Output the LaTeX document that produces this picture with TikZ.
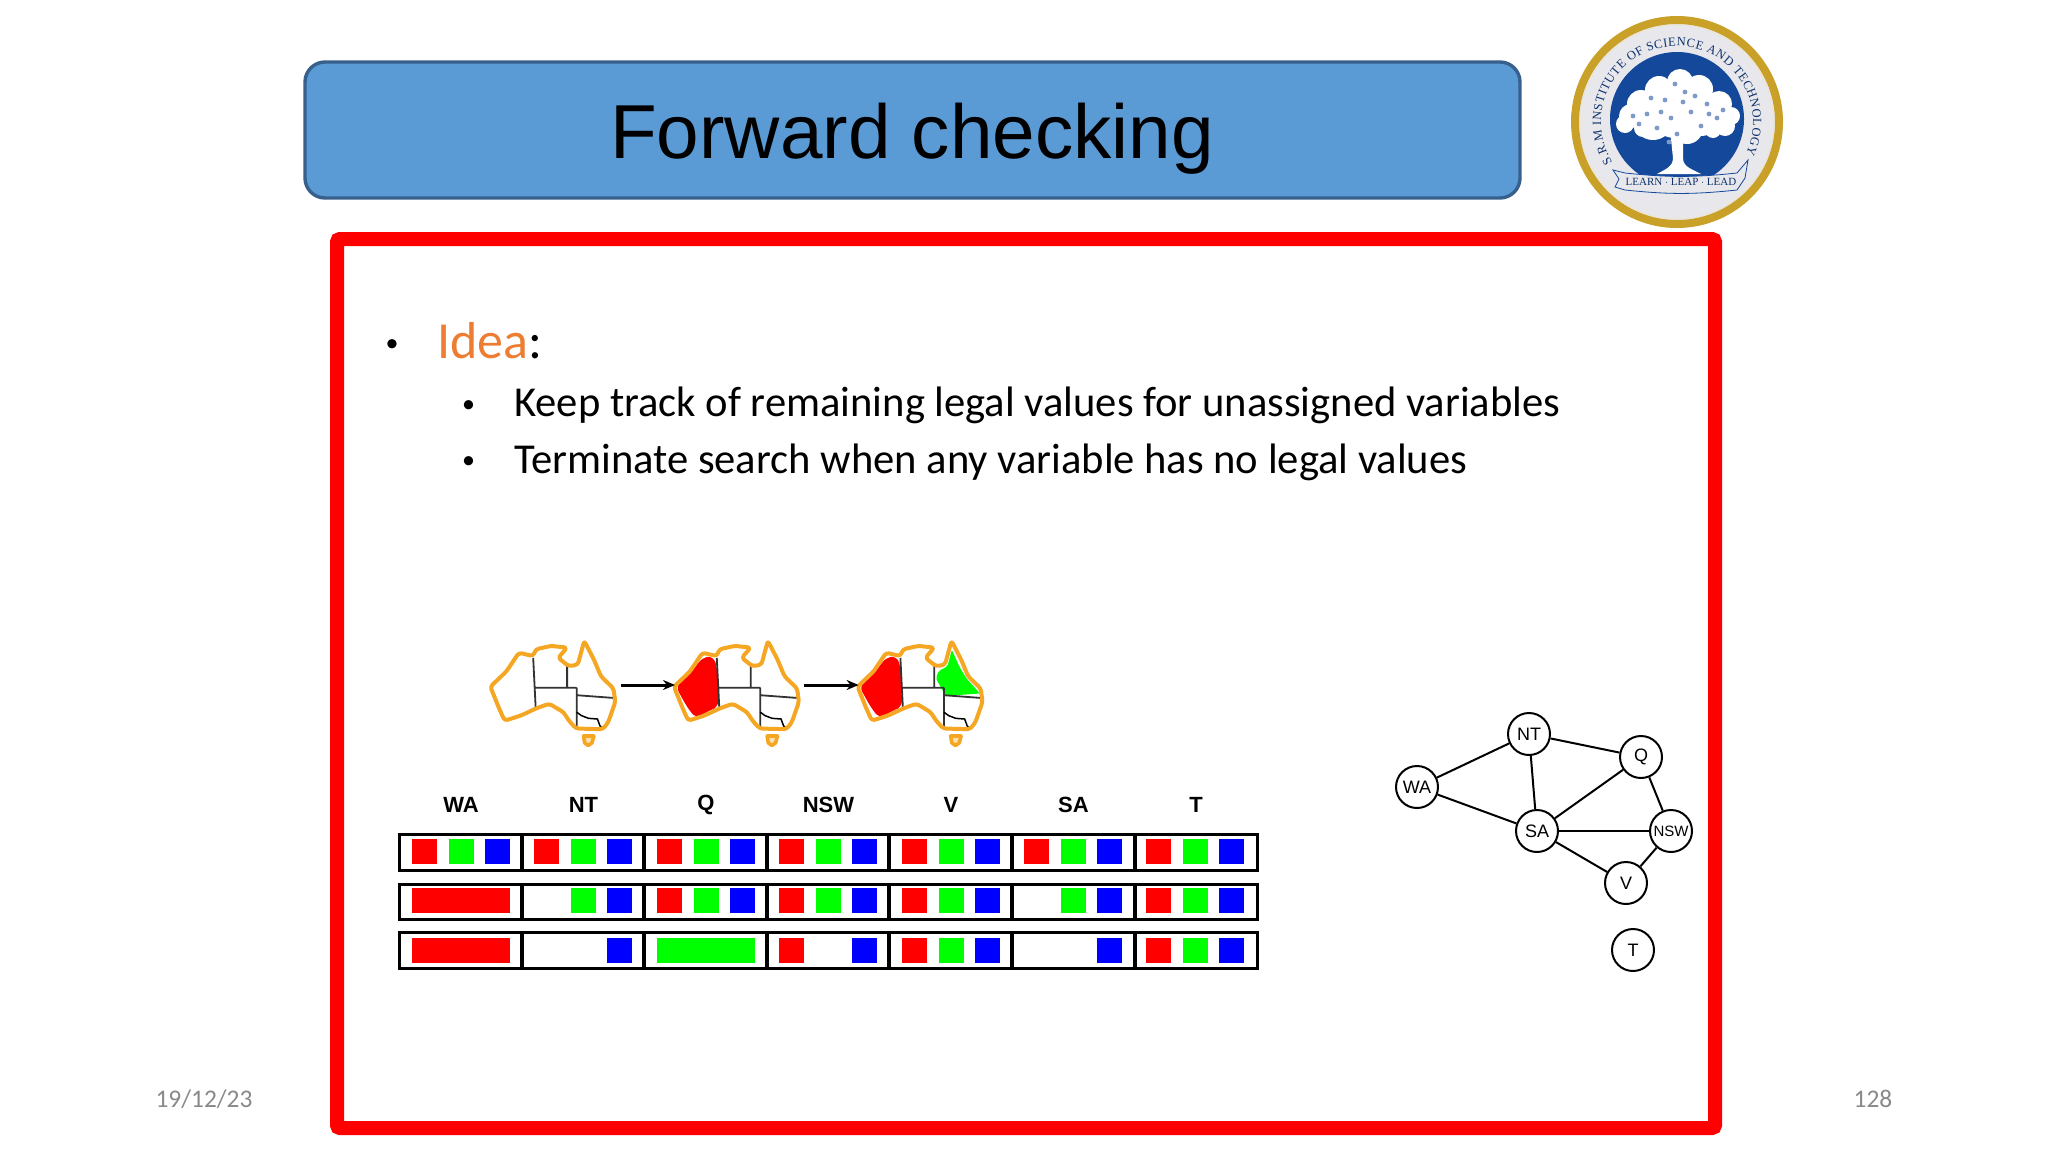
\documentclass[tikz,border=0pt]{standalone}
\usepackage{fontspec}
\usepackage{xcolor}
\usetikzlibrary{arrows.meta, decorations.text}
\setmainfont{Carlito}
\newfontfamily\headfont{Liberation Sans}
\newfontfamily\logofont{Liberation Serif}
\definecolor{titlebg}{RGB}{91,155,213}
\definecolor{titleframe}{RGB}{55,96,140}
\definecolor{ideaorange}{RGB}{237,125,49}
\definecolor{pagegray}{RGB}{137,137,137}
\definecolor{ausorange}{RGB}{245,166,35}
\definecolor{valred}{RGB}{255,0,0}
\definecolor{valgreen}{RGB}{0,255,0}
\definecolor{valblue}{RGB}{0,0,255}
\definecolor{logogold}{RGB}{201,160,40}
\definecolor{logoblue}{RGB}{20,72,155}
\definecolor{logogray}{RGB}{232,232,236}
\newcommand{\sz}[1]{\fontsize{#1}{#1}\selectfont}

\begin{document}
\begin{tikzpicture}[x=1pt, y=-1pt,
        titlebox/.style={draw=titleframe, line width=3.4pt, fill=titlebg, rounded corners=20pt},
        body/.style={anchor=base west, inner sep=0pt, font=\sz{42.6}},
        dot/.style={anchor=base west, inner sep=0pt, font=\sz{26}},
        stub/.style={anchor=base, inner sep=0pt, font=\sz{25.4}, text=pagegray},
        head/.style={inner sep=0pt, font=\headfont\bfseries\sz{22}},
        var/.style={draw, circle, line width=2pt, minimum size=42pt, inner sep=0pt, font=\headfont\sz{18}},
        link/.style={line width=2pt},
        cellrow/.style={draw=black, line width=3pt, line join=miter},
        arr/.style={-{Stealth[length=12pt, width=10pt]}, line width=3pt}
    ]
    \useasboundingbox (0,0) rectangle (2048,1152);

    % title and frame
    \draw[titlebox] (305,62) rectangle (1520,198);
    \node[inner sep=0pt, font=\headfont\sz{76.5}] (title) at (912,139) {Forward checking};
    \draw[draw=red, line width=14pt, rounded corners=3pt] (337,239) rectangle (1715,1128);

    % logo
    \begin{scope}[shift={(1677,122)}, x=1pt, y=1pt]
        \fill[logogray] (0,0) circle[radius=104pt];
        \draw[logogold, line width=8pt] (0,0) circle[radius=102pt];
        \draw[white!70!logogold, line width=1.4pt, dotted] (0,0) circle[radius=97pt];
        \fill[logoblue] (0,3) circle[radius=67pt];
        \foreach \cx/\cy/\cr in {-52/-2/9,-46/6/12,-36/18/14,-18/32/14,3/40/13,22/33/14,42/18/13,54/6/9,48/-4/10,-2/12/28,24/8/22,-24/2/20,10/-6/16,-34/-6/9,36/-8/8}
            \fill[white] (\cx,\cy) circle[radius=\cr pt];
        \fill[white] (-7,-8) -- (-4,-36) to[out=270,in=30] (-20,-52) -- (24,-52) to[out=150,in=270] (6,-36) -- (6,-8) -- cycle;
        \foreach \cx/\cy in {-30/8,-12/22,8/30,30/18,40/4,-6/4,14/10,-20/-6,24/-4,0/-12,-38/-2,-26/24,-44/6,18/26,-2/38,46/12,6/20,-16/10,32/8,-8/-20}
            \fill[logoblue!55!white] (\cx,\cy) circle[radius=2.4pt];
        \path[decorate, decoration={text along path, text align={fit to path},
            text={|\logofont\sz{12.5}\color{logoblue!70!black}|S.R.M INSTITUTE OF SCIENCE AND TECHNOLOGY}}]
            (212:76pt) arc[start angle=212, end angle=-25, radius=76pt];
        \filldraw[fill=logogray, draw=logoblue, line width=.8pt]
            (-52,-51) to[bend right=6] (60,-51) -- (71,-38) -- (68,-56) -- (60,-68)
            to[bend left=6] (-52,-68) -- (-62,-65) -- (-58,-57) -- (-64,-48) -- cycle;
        \node[inner sep=0pt, font=\logofont\sz{11}, text=logoblue!70!black] (motto) at (4,-60) {LEARN $\cdot$ LEAP $\cdot$ LEAD};
    \end{scope}

    % text
    \node[dot] (b1) at (385.5,351) {\textbullet};
    \node[body, font=\sz{52}] (idea) at (437,358) {\textcolor{ideaorange}{Idea}:};
    \node[dot] (b2) at (462,412) {\textbullet};
    \node[body] (t2) at (514,416) {Keep track of remaining legal values for unassigned variables};
    \node[dot] (b3) at (462,468) {\textbullet};
    \node[body] (t3) at (514,473) {Terminate search when any variable has no legal values};
    \node[stub] (date) at (204,1107) {19/12/23};
    \node[stub] (page) at (1873,1107) {128};

    % maps
    \foreach \m/\dx in {1/0,2/183.6,3/367.2} {
        \begin{scope}[shift={(460+\dx,617)}, x=.357pt, y=-.34pt]
            \coordinate (map\m e) at (450,200);
            \coordinate (map\m w) at (88,200);
            \ifnum\m>1
                \fill[valred, rounded corners=6pt] (90,205) -- (135,160) -- (166,118) -- (196,116) -- (206,150) -- (210,264) -- (186,274) -- (146,298) -- (122,265) -- cycle;
            \fi
            \ifnum\m>2
                \fill[valgreen, rounded corners=2pt] (349,96) -- (371,148) -- (391,182) -- (428,225) -- (332,232) -- (304,180) -- (313,158) -- (337,145) -- cycle;
            \fi
            \draw[line width=1.8pt, black!80] (205,120) -- (212,268) (212,208) -- (327,208) (300,135) -- (300,208) (327,208) -- (327,320) (327,230) -- (430,238);
            \draw[line width=1.5pt] (327,280) -- (340,290) -- (360,298) -- (385,300) -- (392,320) -- (400,328);
            \draw[ausorange, line width=4pt, line join=round, rounded corners=3pt] (85,205) -- (130,160) -- (165,105) -- (205,115) -- (212,95) -- (255,85) -- (300,90) -- (275,120) -- (305,145) -- (330,140) -- (348,70) -- (375,125) -- (395,175) -- (430,210) -- (435,250) -- (415,310) -- (400,330) -- (325,328) -- (305,305) -- (290,280) -- (250,255) -- (215,268) -- (170,290) -- (125,305) -- (110,270) -- cycle;
            \filldraw[draw=ausorange, fill=ausorange!35, line width=3.6pt, line join=round] (346,350) -- (375,350) -- (370,370) -- (359,378) -- (349,370) -- cycle;
        \end{scope}
    }
    \draw[arr] (map1e) -- (map2w);
    \draw[arr] (map2e) -- (map3w);

    % table of values
    \foreach \l [count=\c from 0] in {WA,NT,Q,NSW,V,SA,T}
        \node[head] (col\l) at (461+122.5*\c,805) {\l};
    \foreach \y/\k/\s/\cols in {
        839/valred/14/{0,1,2,3,4,5,6}, 839/valgreen/51/{0,1,2,3,4,5,6}, 839/valblue/87/{0,1,2,3,4,5,6},
        888/valred/14/{2,3,4,6}, 888/valgreen/51/{1,2,3,4,5,6}, 888/valblue/87/{1,2,3,4,5,6},
        938/valred/14/{3,4,6}, 938/valgreen/51/{4,6}, 938/valblue/87/{1,3,4,5,6}}
        \foreach \c in \cols
            \fill[\k] (398+122.4*\c+\s,\y) rectangle +(25,25);
    \fill[valred] (412,888) rectangle (510,913);
    \fill[valred] (412,938) rectangle (510,963);
    \fill[valgreen] (657,938) rectangle (755,963);
    \foreach \ya/\yb in {834/870,884/919,932/968} {
        \draw[cellrow] (399,\ya) rectangle (1257,\yb);
        \foreach \c in {1,...,6}
            \draw[line width=4pt] (399+122.6*\c,\ya) -- (399+122.6*\c,\yb);
    }

    % constraint graph
    \node[var] (WA) at (1417,787) {WA};
    \node[var] (NT) at (1529,734) {NT};
    \node[var] (Q) at (1641,757) {Q};
    \node[var] (SA) at (1537,831) {SA};
    \node[var, font=\headfont\sz{15}] (NSW) at (1671,831) {NSW};
    \node[var] (V) at (1626,883) {V};
    \node[var] (T) at (1633,950) {T};
    \foreach \a/\b in {WA/NT,WA/SA,NT/SA,NT/Q,SA/Q,Q/NSW,SA/NSW,SA/V,NSW/V}
        \draw[link] (\a) -- (\b);
\end{tikzpicture}
\end{document}
